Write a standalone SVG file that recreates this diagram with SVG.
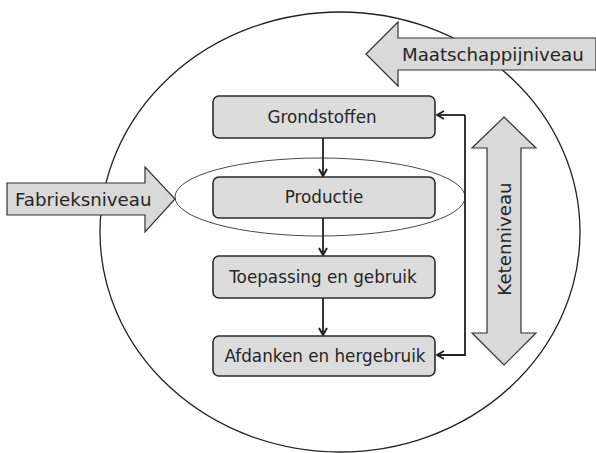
<svg xmlns="http://www.w3.org/2000/svg" width="596" height="453" viewBox="0 0 596 453">
<style>
.box{fill:#dcdcdc;stroke:#2a2a2a;stroke-width:1.6}
.big{fill:#d9d9d9;stroke:#333;stroke-width:1.2}
.t{font-family:"DejaVu Sans",Verdana,sans-serif;font-size:16.8px;fill:#262626}
.tl{font-family:"DejaVu Sans",Verdana,sans-serif;font-size:18.2px;fill:#262626}
.c{fill:none;stroke:#222;stroke-width:1.8}
</style>
<defs>
<marker id="ah" viewBox="0 0 10 10" refX="9" refY="5" markerWidth="10" markerHeight="10" markerUnits="userSpaceOnUse" orient="auto">
<path d="M2,1 L9,5 L2,9" fill="none" stroke="#222" stroke-width="2"/>
</marker>
</defs>
<rect width="596" height="453" fill="#fff"/>
<ellipse id="maatschappij-cirkel" cx="340" cy="232" rx="240" ry="220" fill="none" stroke="#222" stroke-width="1.3"/>
<g id="maatschappijniveau">
<path class="big" d="M366,54 L398,22 L398,38 L596,38 L596,70 L398,70 L398,86 Z"/>
<text class="tl" x="402" y="61">Maatschappijniveau</text>
</g>
<g id="fabrieksniveau">
<path class="big" d="M7,183 L145,183 L145,167 L175,199 L145,232 L145,215 L7,215 Z"/>
<text class="tl" x="15" y="206">Fabrieksniveau</text>
</g>
<g id="ketenniveau">
<path class="big" d="M504,117 L536,148 L521,148 L521,333 L536,333 L504,365 L472,333 L487,333 L487,148 L472,148 Z"/>
<text class="tl" transform="translate(510.5,239) rotate(-90)" text-anchor="middle">Ketenniveau</text>
</g>
<g id="grondstoffen">
<rect class="box" x="213" y="96" width="222" height="42" rx="6"/>
<text class="t" x="322" y="123" text-anchor="middle">Grondstoffen</text>
</g>
<g id="productie">
<rect class="box" x="213" y="177" width="222" height="41" rx="6"/>
<text class="t" x="324" y="203" text-anchor="middle">Productie</text>
</g>
<ellipse id="fabriek-ellips" cx="320" cy="197" rx="145" ry="39" fill="none" stroke="#333" stroke-width="0.9"/>
<g id="toepassing">
<rect class="box" x="213" y="256" width="222" height="42" rx="6"/>
<text class="t" x="323" y="283" text-anchor="middle">Toepassing en gebruik</text>
</g>
<g id="afdanken">
<rect class="box" x="213" y="336" width="222" height="40" rx="6"/>
<text class="t" x="325" y="362" text-anchor="middle">Afdanken en hergebruik</text>
</g>
<g id="connectors">
<path class="c" d="M323,138 L323,176" marker-end="url(#ah)"/>
<path class="c" d="M323,218 L323,255" marker-end="url(#ah)"/>
<path class="c" d="M323,298 L323,335" marker-end="url(#ah)"/>
<path class="c" d="M465,115 L465,355 L437,355" marker-end="url(#ah)"/>
<path class="c" d="M465,115 L437,115" marker-end="url(#ah)"/>
</g>
</svg>
